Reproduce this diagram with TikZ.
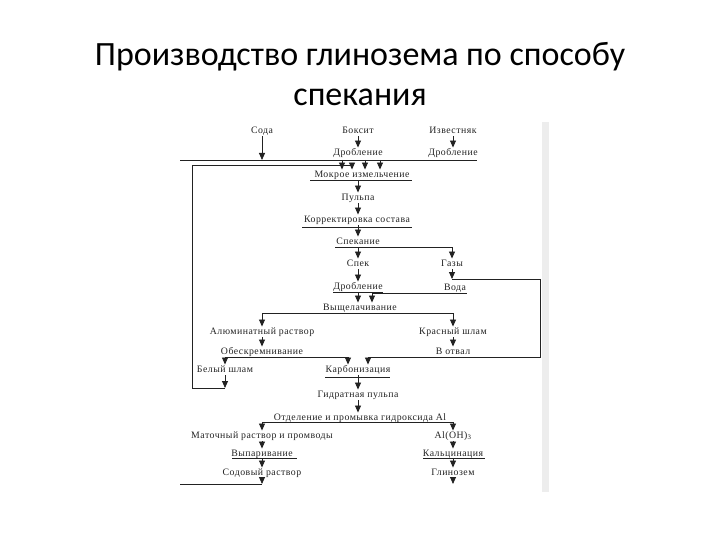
\documentclass[tikz,border=0pt]{standalone}
\usepackage{fontspec}
\setmainfont{Liberation Serif}
\newfontfamily\titlefont{Carlito}
\usetikzlibrary{arrows.meta}
\definecolor{ink}{HTML}{222222}
\tikzset{
  lbl/.style={inner sep=1pt, text height=6.5pt, text depth=2pt, text=ink, font=\fontsize{9.8}{10}\selectfont\addfontfeature{LetterSpace=5}},
  ln/.style={draw=ink, line width=0.85pt},
  arr/.style={ln, -{Triangle[length=7pt,width=6pt]}},
}
\begin{document}
\begin{tikzpicture}[x=1pt,y=-1pt]
\useasboundingbox (0,0) rectangle (720,540);
% title
\node[font=\titlefont\fontsize{34}{40}\selectfont, align=center] (title) at (360,74)
  {Производство глинозема по способу\\спекания};
% scan edge
\fill[gray!14] (542,122) rectangle (549,492);
% nodes
\node[lbl] (soda) at (262,131) {Сода};
\node[lbl] (boks) at (358,131) {Боксит};
\node[lbl] (izv) at (453,131) {Известняк};
\node[lbl] (drob1) at (358,153) {Дробление};
\node[lbl] (drob2) at (453,153) {Дробление};
\node[lbl] (mokr) at (362,175) {Мокрое измельчение};
\node[lbl] (pulpa) at (358,198) {Пульпа};
\node[lbl] (korr) at (357,220) {Корректировка состава};
\node[lbl] (spek) at (358,242) {Спекание};
\node[lbl] (spekk) at (358,264) {Спек};
\node[lbl] (gazy) at (452,264) {Газы};
\node[lbl] (drob3) at (358,287) {Дробление};
\node[lbl] (voda) at (455,288) {Вода};
\node[lbl] (vysh) at (360,308) {Выщелачивание};
\node[lbl] (alum) at (262,332) {Алюминатный раствор};
\node[lbl] (kras) at (453,332) {Красный шлам};
\node[lbl] (obes) at (262,352) {Обескремнивание};
\node[lbl] (otval) at (453,352) {В отвал};
\node[lbl] (bel) at (225,370) {Белый шлам};
\node[lbl] (karb) at (358,370) {Карбонизация};
\node[lbl] (gidr) at (358,395) {Гидратная пульпа};
\node[lbl] (otd) at (360,418) {Отделение и промывка гидроксида Al};
\node[lbl] (mat) at (262,436) {Маточный раствор и промводы};
\node[lbl] (aloh) at (453,436) {Al(OH)\textsubscript{3}};
\node[lbl] (vyp) at (262,454) {Выпаривание};
\node[lbl] (kalc) at (453,454) {Кальцинация};
\node[lbl] (soder) at (262,473) {Содовый раствор};
\node[lbl] (glin) at (453,473) {Глинозем};
% coordinates
\coordinate (t1) at (180,160); \coordinate (t2) at (477,160);
\coordinate (sd) at (262,160);
\coordinate (m1) at (342,160); \coordinate (m3) at (365,160); \coordinate (m4) at (380,160);
\coordinate (r1) at (192,165); \coordinate (r2) at (352,165);
\coordinate (r3) at (192,388); \coordinate (r4) at (225,388);
\coordinate (sp) at (452,247);
\coordinate (g1) at (452,279); \coordinate (g2) at (540,279);
\coordinate (g3) at (540,357); \coordinate (g4) at (368,357);
\coordinate (w1) at (372,293); \coordinate (w2) at (467,293);
\coordinate (v1) at (262,313); \coordinate (v2) at (453,313);
\coordinate (o1) at (225,357); \coordinate (o2) at (348,357);
\coordinate (d1) at (262,422); \coordinate (d2) at (453,422);
\coordinate (s1) at (262,484); \coordinate (s2) at (180,484);
\coordinate (e1) at (453,484);
% top collector
\draw[arr] (soda) -- (sd);
\draw[arr] (boks) -- (drob1);
\draw[arr] (izv) -- (drob2);
\draw[ln] (t1) -- (t2);
\draw[ln] (r1) -- (r2);
\draw[arr] (m1) -- (m1|-mokr.north);
\draw[arr] (r2) -- (r2|-mokr.north);
\draw[arr] (m3) -- (m3|-mokr.north);
\draw[arr] (m4) -- (m4|-mokr.north);
% underlines
\draw[ln] (310,180) -- (412,180);
\draw[ln] (302,227) -- (412,227);
\draw[ln] (335,247) -- (sp);
\draw[ln] (333,292) -- (383,292);
\draw[ln] (v1) -- (v2);
\draw[ln] (o1) -- (o2);
\draw[ln] (325,377) -- (390,377);
\draw[ln] (d1) -- (d2);
\draw[ln] (232,458) -- (297,458);
\draw[ln] (423,458) -- (485,458);
% main chain
\draw[arr] (mokr.south-|pulpa) -- (pulpa);
\draw[arr] (pulpa) -- (korr.north-|pulpa);
\draw[arr] (korr.south-|spek) -- (spek);
\draw[arr] (sp) -- (gazy);
\draw[arr] (spek) -- (spekk);
\draw[arr] (spekk) -- (drob3);
\draw[arr] (drob3) -- (vysh.north-|drob3);
\draw[arr] (gazy) -- (g1);
\draw[ln] (g1) -- (g2) -- (g3) -- (g4);
\draw[arr] (g4) -- (g4|-karb.north);
\draw[ln] (w1) -- (w2);
\draw[arr] (w1) -- (w1|-vysh.north);
\draw[arr] (v1) -- (alum);
\draw[arr] (v2) -- (kras);
\draw[arr] (alum) -- (obes);
\draw[arr] (kras) -- (otval);
\draw[arr] (o1) -- (bel);
\draw[arr] (o2) -- (o2|-karb.north);
\draw[arr] (bel) -- (r4);
\draw[ln] (r4) -- (r3) -- (r1);
\draw[arr] (karb) -- (gidr);
\draw[arr] (gidr) -- (otd.north-|gidr);
\draw[arr] (d1) -- (mat);
\draw[arr] (d2) -- (aloh);
\draw[arr] (mat) -- (vyp);
\draw[arr] (vyp) -- (soder);
\draw[arr] (aloh) -- (kalc);
\draw[arr] (kalc) -- (glin);
\draw[arr] (soder) -- (s1);
\draw[ln] (s1) -- (s2);
\draw[arr] (glin) -- (e1);
\end{tikzpicture}
\end{document}
